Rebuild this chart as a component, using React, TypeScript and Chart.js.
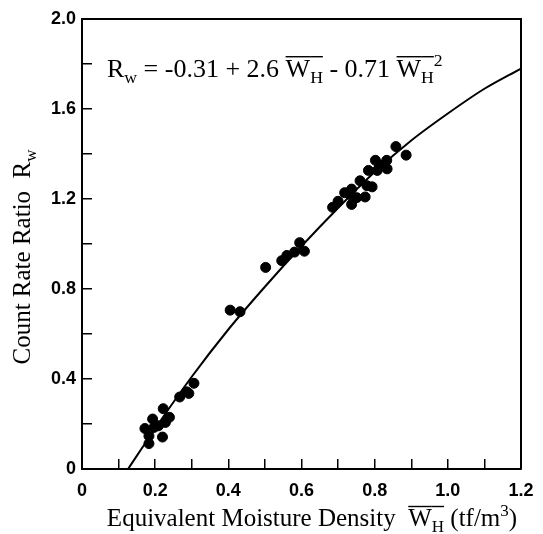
import React, { useEffect, useRef } from "react";
import { Chart, registerables } from "chart.js";

Chart.register(...registerables);

// Measured points (Equivalent moisture density vs count rate ratio)
const measX = [0.172, 0.183, 0.183, 0.193, 0.197, 0.209, 0.22, 0.222, 0.228, 0.239, 0.267, 0.286, 0.292, 0.306, 0.405, 0.432, 0.502, 0.546, 0.56, 0.581, 0.595, 0.608, 0.685, 0.7, 0.718, 0.732, 0.737, 0.737, 0.751, 0.76, 0.774, 0.779, 0.783, 0.793, 0.802, 0.807, 0.814, 0.833, 0.834, 0.858, 0.886];
const measY = [0.18, 0.147, 0.113, 0.222, 0.185, 0.192, 0.142, 0.268, 0.207, 0.23, 0.32, 0.343, 0.336, 0.381, 0.706, 0.699, 0.896, 0.926, 0.949, 0.964, 1.006, 0.968, 1.163, 1.19, 1.228, 1.22, 1.244, 1.176, 1.206, 1.281, 1.209, 1.259, 1.327, 1.254, 1.372, 1.327, 1.35, 1.372, 1.334, 1.433, 1.395];

// Fitted curve
const curveX = [0.126, 0.2, 0.3, 0.4, 0.5, 0.6, 0.7, 0.8, 0.9, 1.0, 1.1, 1.2];
const curveY = [0, 0.18, 0.41, 0.62, 0.81, 0.99, 1.16, 1.32, 1.46, 1.58, 1.69, 1.78];

// Axis tick labels
const xTickLabels = ["0", "0.2", "0.4", "0.6", "0.8", "1.0", "1.2"];
const yTickLabels = ["0", "0.4", "0.8", "1.2", "1.6", "2.0"];

type Seg = { t: string; sub?: boolean; sup?: boolean; over?: boolean };

const SERIF = "'Liberation Serif', 'DejaVu Serif', serif";

function segFont(s: Seg, size: number) {
  const sz = s.sub || s.sup ? size * 0.68 : size;
  return `${sz}px ${SERIF}`;
}

function richWidth(ctx: CanvasRenderingContext2D, segs: Seg[], size: number) {
  let w = 0;
  for (const s of segs) {
    ctx.font = segFont(s, size);
    w += ctx.measureText(s.t).width;
  }
  return w;
}

function drawRich(
  ctx: CanvasRenderingContext2D,
  segs: Seg[],
  x: number,
  y: number,
  size: number,
  align: "left" | "center"
) {
  const total = richWidth(ctx, segs, size);
  let cx = align === "center" ? x - total / 2 : x;
  ctx.textAlign = "left";
  ctx.textBaseline = "alphabetic";
  ctx.fillStyle = "#000";
  ctx.strokeStyle = "#000";
  for (const s of segs) {
    ctx.font = segFont(s, size);
    const w = ctx.measureText(s.t).width;
    let dy = 0;
    if (s.sub) dy = size * 0.22;
    if (s.sup) dy = -size * 0.42;
    ctx.fillText(s.t, cx, y + dy);
    if (s.over) {
      ctx.lineWidth = 1.4;
      ctx.beginPath();
      const oy = y - size * 0.78;
      ctx.moveTo(cx, oy);
      ctx.lineTo(cx + w, oy);
      ctx.stroke();
    }
    cx += w;
  }
}

const equation: Seg[] = [
  { t: "R" },
  { t: "w", sub: true },
  { t: " = -0.31 + 2.6 " },
  { t: "W", over: true },
  { t: "H", sub: true, over: true },
  { t: " - 0.71 " },
  { t: "W", over: true },
  { t: "H", sub: true, over: true },
  { t: "2", sup: true },
];

const xTitle: Seg[] = [
  { t: "Equivalent Moisture Density  " },
  { t: "W", over: true },
  { t: "H", sub: true, over: true },
  { t: " (tf/m" },
  { t: "3", sup: true },
  { t: ")" },
];

const yTitle: Seg[] = [{ t: "Count Rate Ratio  R" }, { t: "w", sub: true }];

const decorPlugin = {
  id: "decor",
  afterDraw(chart: any) {
    const ctx: CanvasRenderingContext2D = chart.ctx;
    const a = chart.chartArea;
    ctx.save();
    // frame top and right
    ctx.strokeStyle = "#000";
    ctx.lineWidth = 2;
    ctx.beginPath();
    ctx.moveTo(a.left, a.top);
    ctx.lineTo(a.right, a.top);
    ctx.lineTo(a.right, a.bottom);
    ctx.stroke();
    drawRich(ctx, equation, 107, 77, 26, "left");
    drawRich(ctx, xTitle, 312, 526, 25, "center");
    ctx.translate(22, 257);
    ctx.rotate(-Math.PI / 2);
    drawRich(ctx, yTitle, 0, 8, 25, "center");
    ctx.restore();
  },
};

export default function App() {
  const ref = useRef<HTMLCanvasElement | null>(null);

  useEffect(() => {
    document.body.style.margin = "0";
    const canvas = ref.current;
    if (!canvas) return;
    const tickFont = { family: "'Liberation Sans', Arial, sans-serif", size: 18, weight: "bold" as const };
    const chart = new Chart(canvas, {
      type: "scatter",
      data: {
        datasets: [
          {
            type: "line",
            data: curveX.map((x, i) => ({ x, y: curveY[i] })),
            borderColor: "#000",
            borderWidth: 2,
            pointRadius: 0,
            cubicInterpolationMode: "monotone",
            fill: false,
          } as any,
          {
            type: "scatter",
            data: measX.map((x, i) => ({ x, y: measY[i] })),
            backgroundColor: "#000",
            borderColor: "#000",
            pointRadius: 5,
            pointHoverRadius: 5,
          },
        ],
      },
      options: {
        responsive: false,
        animation: false,
        devicePixelRatio: 1,
        layout: { padding: { top: 19, right: 22, left: 0, bottom: 0 } },
        plugins: { legend: { display: false }, tooltip: { enabled: false }, title: { display: false } },
        scales: {
          x: {
            type: "linear",
            min: 0,
            max: 1.2,
            afterFit: (s: any) => {
              s.height = 65;
              s.paddingLeft = 0;
              s.paddingRight = 0;
            },
            border: { color: "#000", width: 2 },
            grid: { drawOnChartArea: false, color: "#000", lineWidth: 1.5, tickLength: -10 },
            ticks: {
              stepSize: 0.1,
              autoSkip: false,
              maxRotation: 0,
              padding: 21,
              color: "#000",
              font: tickFont,
              callback: (v: any) => {
                const k = Math.round(Number(v) * 10);
                return k % 2 === 0 ? xTickLabels[k / 2] ?? "" : "";
              },
            },
          },
          y: {
            type: "linear",
            min: 0,
            max: 2.0,
            afterFit: (s: any) => {
              s.width = 82;
              s.paddingTop = 0;
              s.paddingBottom = 0;
            },
            border: { color: "#000", width: 2 },
            grid: { drawOnChartArea: false, color: "#000", lineWidth: 1.5, tickLength: -10 },
            ticks: {
              stepSize: 0.2,
              autoSkip: false,
              padding: 16,
              color: "#000",
              font: tickFont,
              callback: (v: any) => {
                const k = Math.round(Number(v) * 10);
                return k % 4 === 0 ? yTickLabels[k / 4] ?? "" : "";
              },
            },
          },
        },
      },
      plugins: [decorPlugin],
    });
    return () => chart.destroy();
  }, []);

  return <canvas ref={ref} width={543} height={534} style={{ display: "block" }} />;
}
